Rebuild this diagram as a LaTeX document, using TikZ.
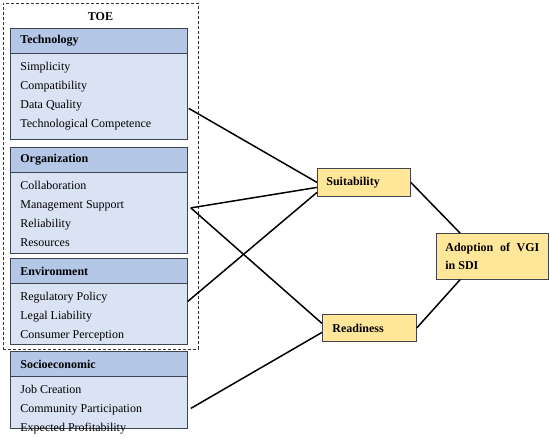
\documentclass[tikz,border=0pt]{standalone}
\usepackage{fontspec}
\setmainfont{Liberation Serif}
\usepackage{xcolor}
\usepackage{tikz}
\definecolor{hdrblue}{HTML}{B4C7E7}
\definecolor{bodyblue}{HTML}{DAE3F3}
\definecolor{boxyellow}{HTML}{FFE699}
\definecolor{edgegray}{HTML}{3F4550}
\tikzset{hdr/.style={draw=edgegray, line width=0.8pt, fill=hdrblue, anchor=north west,
    minimum width=177pt, minimum height=25pt, text width=157pt, inner xsep=10pt,
    align=left, font=\fontsize{12}{19}\selectfont\bfseries},
factors/.style={draw=edgegray, line width=0.8pt, fill=bodyblue, anchor=north west,
    inner xsep=10pt, inner ysep=0pt},
construct/.style={draw=edgegray, line width=0.8pt, fill=boxyellow, anchor=north west,
    font=\fontsize{12}{18}\selectfont\bfseries},
link/.style={line width=1.5pt}}
\newcommand{\factorlist}[2]{\parbox[c][#1][t]{157pt}{\raggedright\fontsize{12}{19}\selectfont\vspace*{9pt}#2}}

\begin{document}
\begin{tikzpicture}[x=1pt,y=-1pt,every node/.style={font=\fontsize{12}{19}\selectfont}]
   \useasboundingbox (0,0) rectangle (550,439);
   \node[draw=black!80, line width=0.7pt, dash pattern=on 3pt off 2pt, anchor=north west,
      minimum width=195pt, minimum height=346pt] (toe) at (3,3) {};
   \node[font=\fontsize{12}{19}\selectfont\bfseries] (toelabel) at (100.5,17) {TOE};
   \node[hdr] (tech) at (10,28) {Technology};
   \node[factors] (techitems) at (10,53) {\factorlist{86pt}{Simplicity\\Compatibility\\Data Quality\\Technological Competence}};
   \node[hdr] (org) at (10,147) {Organization};
   \node[factors] (orgitems) at (10,172) {\factorlist{81pt}{Collaboration\\Management Support\\Reliability\\Resources}};
   \node[hdr] (env) at (10,258) {Environment};
   \node[factors] (envitems) at (10,283) {\factorlist{61pt}{Regulatory Policy\\Legal Liability\\Consumer Perception}};
   \node[hdr] (socio) at (10,351) {Socioeconomic};
   \node[factors] (socioitems) at (10,376) {\factorlist{52pt}{Job Creation\\Community Participation\\Expected Profitability}};
   \node[construct, minimum width=93pt, minimum height=28pt, text width=75pt, inner xsep=9pt, align=left] (suit) at (317,168) {Suitability};
   \node[construct, minimum width=94pt, minimum height=27pt, text width=74pt, inner xsep=10pt, align=left] (ready) at (322,314) {Readiness};
   \node[construct, minimum width=112pt, minimum height=46pt, text width=94pt, inner xsep=9pt, align=justify] (adopt) at (436,233) {Adoption of VGI in SDI};
   \draw[link] ([xshift=1pt,yshift=-12pt]techitems.east) -- (suit.west);
   \draw[link] ([xshift=3pt,yshift=5pt]orgitems.east) -- ([yshift=-5pt]suit.west);
   \draw[link] ([xshift=3pt,yshift=5pt]orgitems.east) -- ([yshift=4.5pt]ready.west);
   \draw[link] ([yshift=12.5pt]envitems.east) -- ([yshift=-10pt]suit.west);
   \draw[link] ([xshift=3pt,yshift=-6pt]socioitems.east) -- ([yshift=-4.5pt]ready.west);
   \draw[link] (suit.east) -- ([xshift=24pt]adopt.north west);
   \draw[link] (ready.east) -- ([xshift=24pt]adopt.south west);
\end{tikzpicture}
\end{document}
